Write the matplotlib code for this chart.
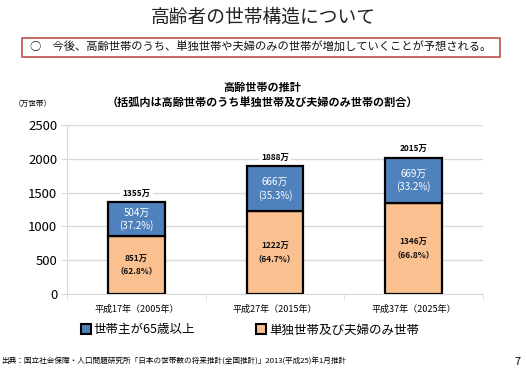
import matplotlib
matplotlib.use("Agg")
import matplotlib.pyplot as plt
from matplotlib.patches import Rectangle, Patch
import numpy as np

plt.rcParams['font.family'] = ['Noto Sans CJK JP', 'DejaVu Sans']

categories = ["平成17年（2005年）", "平成27年（2015年）", "平成37年（2025年）"]
single_couple = [851, 1222, 1346]
single_couple_pct = ["62.8%", "64.7%", "66.8%"]
other = [504, 666, 669]
other_pct = ["37.2%", "35.3%", "33.2%"]
totals = [1355, 1888, 2015]
yticks = [0, 500, 1000, 1500, 2000, 2500]

blue = "#4F81BD"
orange = "#FAC090"
grid_c = "#D9D9D9"

fig = plt.figure(figsize=(5.26, 3.69), dpi=100)

fig.text(0.5, 0.953, "高齢者の世帯構造について", ha="center", va="center", fontsize=13.5, color="#222222")
fig.patches.append(Rectangle((22/526, 1-57/369), 478/526, 19/369, transform=fig.transFigure,
                             fill=False, edgecolor="#C0504D", linewidth=1.2))
fig.text(30/526, 1-47.5/369, "○　今後、高齢世帯のうち、単独世帯や夫婦のみの世帯が増加していくことが予想される。",
         ha="left", va="center", fontsize=8.15, color="#111111")

fig.text(262/526, 1-87/369, "高齢世帯の推計", ha="center", va="center", fontsize=8, fontweight="bold")
fig.text(262/526, 1-102/369, "（括弧内は高齢世帯のうち単独世帯及び夫婦のみ世帯の割合）", ha="center", va="center",
         fontsize=8, fontweight="bold")
fig.text(33/526, 1-104/369, "（万世帯）", ha="center", va="center", fontsize=5.5)

ax = fig.add_axes([67/526, 75/369, 416/526, 169/369])
x = np.arange(len(categories))
w = 0.41
ax.bar(x, single_couple, w, color=orange, edgecolor="black", linewidth=1.6, zorder=3)
ax.bar(x, other, w, bottom=single_couple, color=blue, edgecolor="black", linewidth=1.6, zorder=3)

for i in range(len(categories)):
    ax.text(x[i], single_couple[i] / 2, f"{single_couple[i]}万\n（{single_couple_pct[i]}）", ha="center",
            va="center", fontsize=6, fontweight="bold", color="#111111", zorder=4, linespacing=1.4)
    ax.text(x[i], single_couple[i] + other[i] / 2, f"{other[i]}万\n({other_pct[i]})", ha="center",
            va="center", fontsize=7, color="white", zorder=4, linespacing=1.3)
    ax.text(x[i], totals[i] + 120, f"{totals[i]}万", ha="center", va="center", fontsize=6, fontweight="bold",
            zorder=2, bbox=dict(facecolor="white", edgecolor="none", boxstyle="square,pad=0.3"))

ax.set_xlim(-0.5, 2.5)
ax.set_ylim(0, 2500)
ax.set_yticks(yticks)
ax.set_yticklabels([str(v) for v in yticks], fontsize=9.5)
ax.yaxis.grid(True, color=grid_c, linewidth=1, zorder=0)
ax.set_axisbelow(True)
ax.set_xticks(x)
ax.set_xticklabels(categories, fontsize=6.5)
ax.tick_params(axis="x", length=0, pad=8)
ax.set_xticks([-0.5, 0.5, 1.5, 2.5], minor=True)
ax.tick_params(axis="x", which="minor", length=4, color=grid_c)
ax.tick_params(axis="y", length=4, color=grid_c, pad=3)
for s in ["top", "right"]:
    ax.spines[s].set_visible(False)
ax.spines["left"].set_color(grid_c)
ax.spines["bottom"].set_color(grid_c)

handles = [Patch(facecolor=blue, edgecolor="black", linewidth=1.5),
           Patch(facecolor=orange, edgecolor="black", linewidth=1.5)]
fig.legend(handles, ["世帯主が65歳以上", "単独世帯及び夫婦のみ世帯"], loc="center", bbox_to_anchor=(250/526, 1-330/369),
           ncol=2, frameon=False, fontsize=9, handlelength=0.8, handleheight=0.8, handletextpad=0.2,
           columnspacing=4.9)

fig.text(1/526, 1-362/369, "出典：国立社会保障・人口問題研究所「日本の世帯数の将来推計(全国推計)」2013(平成25)年1月推計",
         ha="left", va="center", fontsize=5.5)
fig.text(518/526, 1-362/369, "7", ha="center", va="center", fontsize=8)

fig.savefig("out.png", dpi=100)
